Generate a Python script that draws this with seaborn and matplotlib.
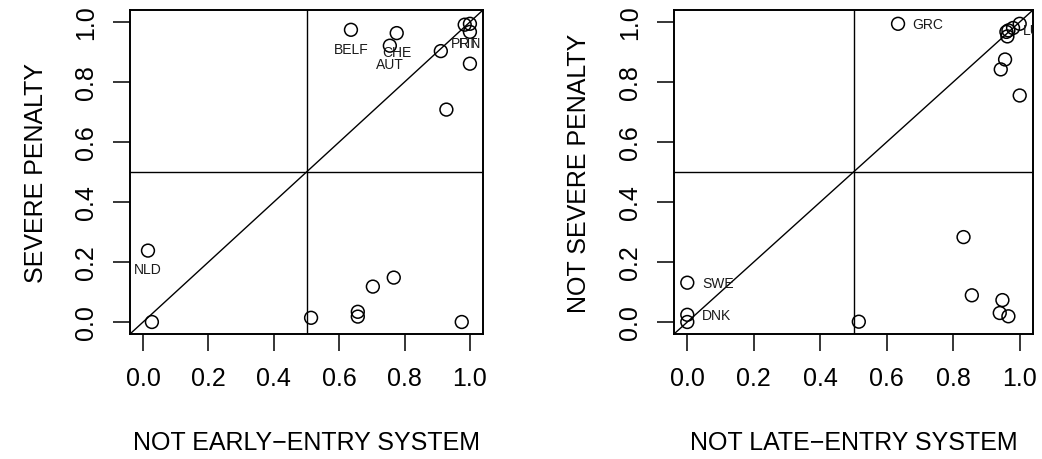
import matplotlib
matplotlib.use("Agg")
import matplotlib.pyplot as plt
import seaborn as sns

# left panel: early-entry system vs severe penalty
early_x = [0.015, 0.027, 0.514, 0.657, 0.657, 0.703, 0.767, 0.975,
           0.636, 0.776, 0.755, 0.911, 0.928, 1.0, 0.984, 1.0, 1.0]
early_y = [0.238, 0.0, 0.014, 0.034, 0.018, 0.118, 0.148, 0.0,
           0.974, 0.963, 0.921, 0.903, 0.708, 0.861, 0.991, 0.994, 0.967]
early_labels = ["NLD", "", "", "", "", "", "", "",
                "BELF", "CHE", "AUT", "", "", "", "PRT", "FIN", ""]

# right panel: late-entry system vs not severe penalty
late_x = [0.0, 0.0, 0.0, 0.516, 0.831, 0.856, 0.948, 0.940, 0.966,
          0.634, 1.0, 0.980, 0.966, 0.960, 0.963, 0.956, 0.943, 1.0]
late_y = [0.131, 0.024, 0.0, 0.001, 0.283, 0.089, 0.073, 0.030, 0.019,
          0.994, 0.994, 0.980, 0.972, 0.967, 0.952, 0.875, 0.842, 0.755]
late_labels = ["SWE", "DNK", "", "", "", "", "", "", "",
               "GRC", "", "", "LUX", "", "", "", "", ""]

ticks = [0.0, 0.2, 0.4, 0.6, 0.8, 1.0]
tick_labels = ["0.0", "0.2", "0.4", "0.6", "0.8", "1.0"]


def draw_panel(ax, x, y, labels, xlabel, ylabel, label_pos):
    ax.set_xlim(-0.04, 1.04)
    ax.set_ylim(-0.04, 1.04)
    ax.axvline(0.5, color="black", lw=1)
    ax.axhline(0.5, color="black", lw=1)
    ax.axline((0, 0), slope=1, color="black", lw=1)

    sns.scatterplot(x=x, y=y, ax=ax, s=85, marker="o",
                    facecolor="none", edgecolor="black", linewidth=1.1,
                    zorder=3)

    for xi, yi, lab in zip(x, y, labels):
        if not lab:
            continue
        if label_pos == "below":
            ax.annotate(lab, (xi, yi), xytext=(0, -13.5), textcoords="offset points",
                        ha="center", va="center", fontsize=10, color="#1a1a1a",
                        clip_on=True)
        else:
            ax.annotate(lab, (xi, yi), xytext=(10.5, 0), textcoords="offset points",
                        ha="left", va="center", fontsize=10, color="#1a1a1a",
                        clip_on=True)

    ax.set_xticks(ticks)
    ax.set_xticklabels(tick_labels)
    ax.set_yticks(ticks)
    ax.set_yticklabels(tick_labels, rotation=90, va="center")
    ax.tick_params(axis="both", direction="out", length=12, width=1.1,
                   labelsize=18, pad=11, color="black", labelcolor="black")

    ax.set_xlabel(xlabel, fontsize=18, color="black")
    ax.xaxis.label.set_va("center")
    ax.xaxis.set_label_coords(0.5, -0.333)
    ax.set_ylabel(ylabel, fontsize=18, color="black")
    ax.yaxis.label.set_va("center")
    ax.yaxis.set_label_coords(-0.265, 0.5)

    for side in ["left", "right", "top", "bottom"]:
        ax.spines[side].set_visible(True)
        ax.spines[side].set_color("black")
        ax.spines[side].set_linewidth(1.4)
    ax.grid(False)


sns.set_style("ticks")
plt.rcParams["font.family"] = ["Liberation Sans", "DejaVu Sans"]
plt.rcParams["text.color"] = "black"

fig = plt.figure(figsize=(10.42, 4.6), dpi=100)
ax1 = fig.add_axes([130 / 1042, 125 / 460, 353 / 1042, 324 / 460])
ax2 = fig.add_axes([674 / 1042, 125 / 460, 359 / 1042, 324 / 460])

draw_panel(ax1, early_x, early_y, early_labels,
           "NOT EARLY\u2212ENTRY SYSTEM", "SEVERE PENALTY", "below")
draw_panel(ax2, late_x, late_y, late_labels,
           "NOT LATE\u2212ENTRY SYSTEM", "NOT SEVERE PENALTY", "right")

fig.savefig("out.png", dpi=100, facecolor="white")
plt.close(fig)
